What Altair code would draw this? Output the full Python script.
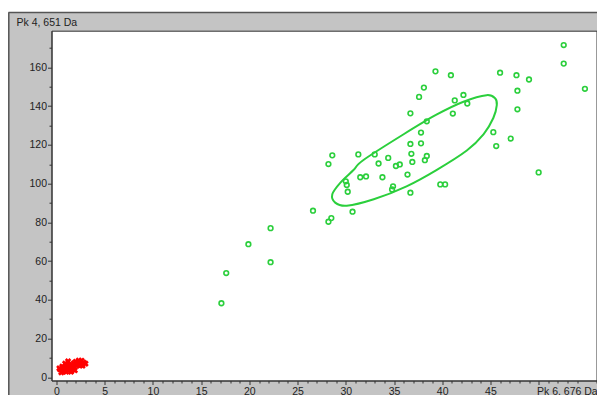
import altair as alt
import pandas as pd

# ---- data ----
green_x = [17.1, 17.6, 19.9, 22.2, 22.2, 26.6, 28.2, 28.5, 30.7, 30.2,
           39.3, 40.9, 38.1, 37.6, 41.3, 42.2, 42.6, 36.7, 41.1, 38.4,
           37.8, 36.7, 37.8, 28.6, 28.2, 31.3, 33.0, 34.4, 33.4, 36.8,
           38.4, 38.2, 36.9, 35.2, 35.6, 31.5, 32.1, 33.8, 36.4, 30.0,
           30.1, 34.9, 34.8, 36.7, 39.8, 40.3, 52.6, 52.6, 54.8, 46.0,
           47.7, 49.0, 47.8, 47.8, 45.3, 47.1, 45.6, 50.0]
green_y = [38.2, 53.8, 68.7, 77.0, 59.4, 86.0, 80.3, 82.2, 85.5, 95.8,
           158.0, 156.0, 149.6, 144.8, 143.0, 145.8, 141.4, 136.3, 136.2, 132.2,
           126.4, 120.5, 120.8, 114.6, 110.1, 115.1, 115.1, 113.3, 110.4, 115.4,
           114.3, 112.1, 111.2, 109.1, 109.9, 103.3, 103.7, 103.3, 104.7, 101.2,
           99.3, 98.6, 97.0, 95.3, 99.6, 99.6, 171.6, 162.0, 149.0, 157.3,
           156.0, 153.8, 148.0, 138.4, 126.6, 123.3, 119.4, 105.8]

red_x = [0.4, 0.6, 0.8, 1.0, 1.2, 0.7, 0.9, 1.1, 1.3, 1.5, 0.5, 0.8, 1.0, 1.4, 1.6, 1.8,
         2.0, 2.2, 2.4, 2.6, 2.8, 1.2, 1.7, 2.1, 2.5, 0.3, 1.9, 2.3, 1.5, 1.0, 3.0, 2.7]
red_y = [4.0, 5.5, 3.5, 6.0, 4.5, 3.0, 7.0, 5.0, 3.8, 6.5, 2.5, 4.8, 2.8, 5.2, 4.2, 7.2,
         8.0, 6.8, 7.8, 8.5, 7.5, 8.2, 5.8, 6.0, 6.3, 4.6, 3.6, 8.6, 2.8, 5.6, 7.0, 6.0]

ell_x = [28.6, 29.4, 30.8, 31.8, 36.0, 39.4, 42.2, 44.6, 45.5, 45.66,
         45.3, 44.3, 42.55, 39.4, 36.3, 32.9, 30.1, 28.9]
ell_y = [94.5, 100.3, 107.0, 112.1, 125.5, 135.6, 142.3, 145.7, 144.0, 140.6,
         133.9, 125.6, 117.1, 107.0, 98.6, 91.9, 88.6, 90.2]

x_major = [0, 5, 10, 15, 20, 25, 30, 35, 40, 45, 50]
x_minor = [v for v in range(0, 57) if v % 5 != 0]
y_major = [0, 20, 40, 60, 80, 100, 120, 140, 160]
y_minor = [10, 30, 50, 70, 90, 110, 130, 150, 170]

x_title = "Pk 6, 676 Da"
y_title = "Pk 4, 651 Da"

green_df = pd.DataFrame({"x": green_x, "y": green_y})
red_df = pd.DataFrame({"x": red_x, "y": red_y})
ell_df = pd.DataFrame({"x": ell_x, "y": ell_y, "i": list(range(len(ell_x)))})

PL, PT, PR, PB = 43.5, 22.7, 0.5, 14.5
W, H = 545.0, 349.8

xs = alt.Scale(domain=[-0.52, 56.0], nice=False, zero=False)
ys = alt.Scale(domain=[-1.7, 179], nice=False, zero=False)

GREEN = "#2bcf3c"

major_x = alt.Axis(values=x_major, orient="bottom", tickSize=4, labelPadding=1.5,
                   labelExpr="datum.value == 50 ? '' : datum.label",
                   title=x_title, titleX=W - 60, titleY=5.5, titleAlign="left",
                   titleBaseline="top", titleAnchor="start")
major_y = alt.Axis(values=y_major, orient="left", tickSize=4, labelPadding=1,
                   title=y_title, titleAngle=0, titleX=-35.5, titleY=-8.7,
                   titleAlign="left", titleBaseline="middle")
minor_x = alt.Axis(values=x_minor, orient="bottom", tickSize=2.5, labels=False,
                   domain=False, title=None)
minor_y = alt.Axis(values=y_minor, orient="left", tickSize=2.5, labels=False,
                   domain=False, title=None)

one = alt.Data(values=[{"a": 1}])

strip = alt.Chart(one).mark_rect(color="white").encode(
    x=alt.value(-PL), x2=alt.value(W + PR), y=alt.value(-PT), y2=alt.value(-PT + 4))
border_top = alt.Chart(one).mark_rule(color="#555555", strokeWidth=1.5).encode(
    x=alt.value(-PL + 0.5), x2=alt.value(W + PR), y=alt.value(-PT + 4.5))
border_left = alt.Chart(one).mark_rule(color="#555555", strokeWidth=1.5).encode(
    x=alt.value(-PL + 0.8), y=alt.value(-PT + 4.5), y2=alt.value(H + PB))

green = alt.Chart(green_df).mark_point(
    shape="circle", filled=False, color=GREEN, size=22, strokeWidth=1.6, opacity=1
).encode(
    x=alt.X("x:Q", scale=xs, axis=major_x),
    y=alt.Y("y:Q", scale=ys, axis=major_y),
)

ellipse = alt.Chart(ell_df).mark_line(
    interpolate="cardinal-closed", color=GREEN, strokeWidth=2
).encode(
    x=alt.X("x:Q", scale=xs, axis=minor_x),
    y=alt.Y("y:Q", scale=ys, axis=minor_y),
    order=alt.Order("i:Q"),
)

red = alt.Chart(red_df).mark_point(
    shape="cross", angle=45, filled=True, color="#ff0000", size=45, opacity=1
).encode(
    x=alt.X("x:Q", scale=xs, axis=None),
    y=alt.Y("y:Q", scale=ys, axis=None),
)

chart = alt.layer(strip, border_top, border_left, green, ellipse, red).resolve_axis(
    x="independent", y="independent"
).properties(
    width=W, height=H,
    autosize=alt.AutoSizeParams(type="none"),
    padding={"left": PL, "top": PT, "right": PR, "bottom": PB},
    background="#c4c4c4",
).configure_axis(
    labelFont="Liberation Sans", labelFontSize=10.5, labelColor="#222222",
    titleFont="Liberation Sans", titleFontSize=10.5, titleColor="#222222",
    titleFontWeight="normal", tickColor="#333333", domainColor="#333333",
    grid=False,
).configure_view(stroke="#333333", strokeWidth=1, fill="white")

chart.save("out.html", embed_options={"renderer": "svg", "actions": False})
